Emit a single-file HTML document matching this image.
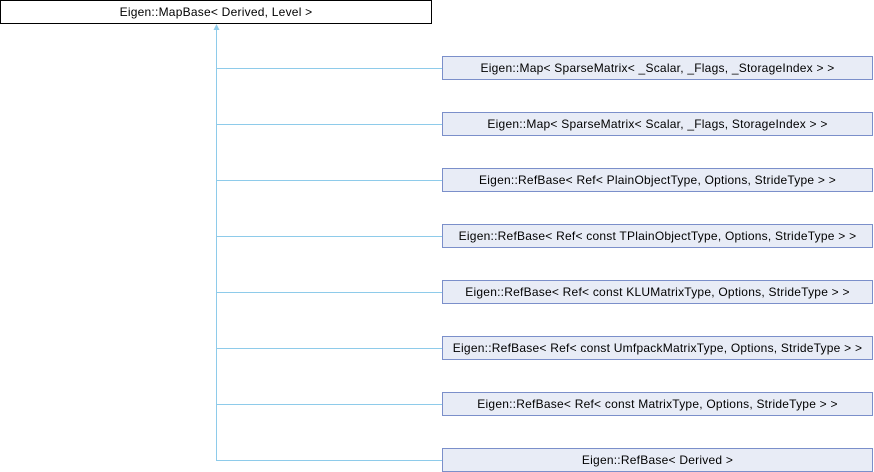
<!DOCTYPE html>
<html><head><meta charset="utf-8"><style>
html,body{margin:0;padding:0;background:#fff;width:874px;height:472px;overflow:hidden;position:relative;font-family:"Liberation Sans",Arial,sans-serif;font-size:12px;}
.b{position:absolute;box-sizing:border-box;height:24px;line-height:22px;text-align:center;white-space:nowrap;color:#000;letter-spacing:0.23px;}
.top{left:0;top:0;width:432px;border:1px solid #000;background:#fff;}
.c{left:442px;width:431px;border:1px solid #7b8fca;background:#e8ecf6;}
</style></head><body>
<svg width="874" height="472" style="position:absolute;left:0;top:0">
<g stroke="#8ecbea" stroke-width="1" fill="none">
<line x1="216.5" y1="28" x2="216.5" y2="460.5"/>
<line x1="216" y1="68.5" x2="442" y2="68.5"/>
<line x1="216" y1="124.5" x2="442" y2="124.5"/>
<line x1="216" y1="180.5" x2="442" y2="180.5"/>
<line x1="216" y1="236.5" x2="442" y2="236.5"/>
<line x1="216" y1="292.5" x2="442" y2="292.5"/>
<line x1="216" y1="348.5" x2="442" y2="348.5"/>
<line x1="216" y1="404.5" x2="442" y2="404.5"/>
<line x1="216" y1="460.5" x2="442" y2="460.5"/>
</g>
<polygon points="216.5,24 213.5,30 219.5,30" fill="#8ecbea"/>
</svg>
<div class="b top">Eigen::MapBase&lt; Derived, Level &gt;</div>
<div class="b c" style="top:56px">Eigen::Map&lt; SparseMatrix&lt; _Scalar, _Flags, _StorageIndex &gt; &gt;</div>
<div class="b c" style="top:112px">Eigen::Map&lt; SparseMatrix&lt; Scalar, _Flags, StorageIndex &gt; &gt;</div>
<div class="b c" style="top:168px">Eigen::RefBase&lt; Ref&lt; PlainObjectType, Options, StrideType &gt; &gt;</div>
<div class="b c" style="top:224px">Eigen::RefBase&lt; Ref&lt; const TPlainObjectType, Options, StrideType &gt; &gt;</div>
<div class="b c" style="top:280px">Eigen::RefBase&lt; Ref&lt; const KLUMatrixType, Options, StrideType &gt; &gt;</div>
<div class="b c" style="top:336px">Eigen::RefBase&lt; Ref&lt; const UmfpackMatrixType, Options, StrideType &gt; &gt;</div>
<div class="b c" style="top:392px">Eigen::RefBase&lt; Ref&lt; const MatrixType, Options, StrideType &gt; &gt;</div>
<div class="b c" style="top:448px">Eigen::RefBase&lt; Derived &gt;</div>
</body></html>
